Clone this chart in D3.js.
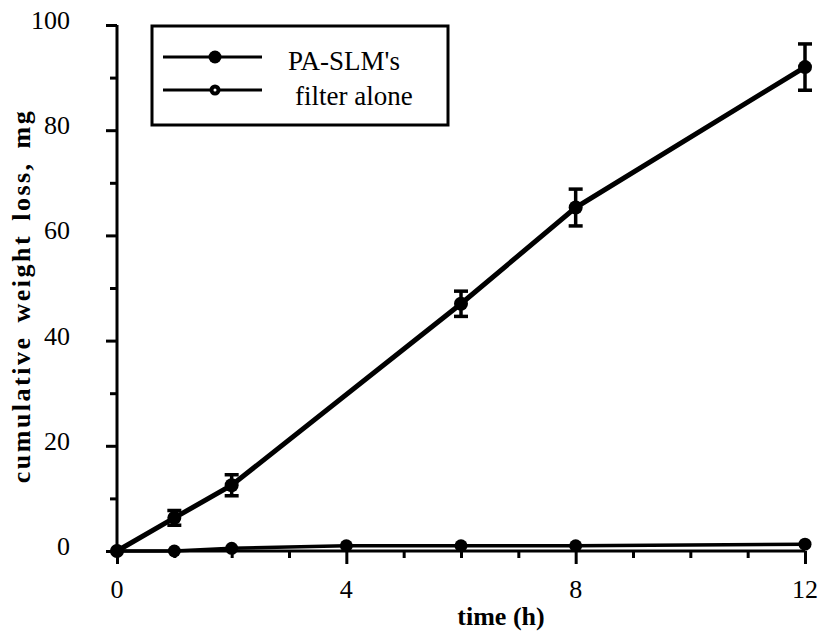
<!DOCTYPE html>
<html>
<head>
<meta charset="utf-8">
<script src="https://cdn.jsdelivr.net/npm/d3@7"></script>
<style>
  body { margin: 0; background: #fff; }
  text { font-family: "Liberation Serif", "Times New Roman", serif; fill: #000; }
</style>
</head>
<body>
<div id="chart"></div>
<script>
// data
var times = [0, 1, 2, 6, 8, 12];
var slmLoss = [0, 6.3, 12.5, 47, 65.3, 92];
var slmErr = [0, 1.4, 2, 2.4, 3.5, 4.4];
var filterTimes = [0, 1, 2, 4, 6, 8, 12];
var filterLoss = [0, 0, 0.5, 1.0, 1.0, 1.0, 1.3];
var xMajor = [0, 4, 8, 12];
var yMajor = [0, 20, 40, 60, 80, 100];
var legendNames = ["PA-SLM's", "filter alone"];

var svg = d3.select("#chart").append("svg")
  .attr("width", 822)
  .attr("height", 634);

var x = d3.scaleLinear().domain([0, 12]).range([117, 805]);
var y = d3.scaleLinear().domain([0, 100]).range([551, 25]);

// y axis
var yAxis = svg.append("g")
  .attr("transform", "translate(117,0)")
  .call(d3.axisLeft(y).tickValues(d3.range(0, 101, 10)).tickSize(7).tickFormat(""));
yAxis.selectAll(".tick").filter(function(d){ return d % 20 === 0; })
  .select("line").attr("x2", -11);
yAxis.selectAll("line").attr("stroke", "#000").attr("stroke-width", 3);
yAxis.select(".domain").attr("stroke", "#000").attr("stroke-width", 3)
  .attr("d", "M0," + y(0) + "V" + y(100));

svg.selectAll(".ylab").data(yMajor).enter().append("text")
  .attr("class", "ylab")
  .attr("x", 70)
  .attr("y", function(d){ return y(d) + 4; })
  .attr("text-anchor", "end")
  .style("font-size", "26px")
  .text(function(d){ return d; });

// x axis
var xAxis = svg.append("g")
  .attr("transform", "translate(0," + y(0) + ")")
  .call(d3.axisBottom(x).tickValues(d3.range(0, 13, 1)).tickSize(7).tickFormat(""));
xAxis.selectAll(".tick").filter(function(d){ return d % 4 === 0; })
  .select("line").attr("y2", 13);
xAxis.selectAll("line").attr("stroke", "#000").attr("stroke-width", 3);
xAxis.select(".domain").attr("stroke", "#000").attr("stroke-width", 3)
  .attr("d", "M" + x(0) + ",0H" + x(12));

svg.selectAll(".xlab").data(xMajor).enter().append("text")
  .attr("class", "xlab")
  .attr("x", function(d){ return x(d); })
  .attr("y", 598)
  .attr("text-anchor", "middle")
  .style("font-size", "26px")
  .text(function(d){ return d; });

svg.append("text")
  .attr("x", 501)
  .attr("y", 625)
  .attr("text-anchor", "middle")
  .style("font-size", "26px")
  .style("font-weight", "bold")
  .text("time (h)");

svg.append("text")
  .attr("transform", "translate(30,296) rotate(-90)")
  .attr("text-anchor", "middle")
  .style("font-size", "26px")
  .style("font-weight", "bold")
  .style("letter-spacing", "2.5px")
  .style("word-spacing", "4px")
  .text("cumulative weight loss, mg");

// filter alone series
var line = d3.line()
  .x(function(d){ return x(d[0]); })
  .y(function(d){ return y(d[1]); });

svg.append("path")
  .datum(d3.zip(filterTimes, filterLoss))
  .attr("d", line)
  .attr("fill", "none")
  .attr("stroke", "#000")
  .attr("stroke-width", 3.5);

svg.selectAll(".fdot").data(d3.zip(filterTimes, filterLoss)).enter().append("circle")
  .attr("class", "fdot")
  .attr("cx", function(d){ return x(d[0]); })
  .attr("cy", function(d){ return y(d[1]); })
  .attr("r", 6.5)
  .attr("fill", "#000");

// PA-SLM's series
var slm = d3.zip(times, slmLoss, slmErr);

svg.append("path")
  .datum(slm)
  .attr("d", line)
  .attr("fill", "none")
  .attr("stroke", "#000")
  .attr("stroke-width", 5);

var bars = svg.selectAll(".err").data(slm.filter(function(d){ return d[2] > 0; }))
  .enter().append("g").attr("class", "err");
bars.append("line")
  .attr("x1", function(d){ return x(d[0]); })
  .attr("x2", function(d){ return x(d[0]); })
  .attr("y1", function(d){ return y(d[1] - d[2]); })
  .attr("y2", function(d){ return y(d[1] + d[2]); })
  .attr("stroke", "#000").attr("stroke-width", 3.5);
[-1, 1].forEach(function(s){
  bars.append("line")
    .attr("x1", function(d){ return x(d[0]) - 7; })
    .attr("x2", function(d){ return x(d[0]) + 7; })
    .attr("y1", function(d){ return y(d[1] + s * d[2]); })
    .attr("y2", function(d){ return y(d[1] + s * d[2]); })
    .attr("stroke", "#000").attr("stroke-width", 3.5);
});

svg.selectAll(".sdot").data(slm).enter().append("circle")
  .attr("class", "sdot")
  .attr("cx", function(d){ return x(d[0]); })
  .attr("cy", function(d){ return y(d[1]); })
  .attr("r", 7)
  .attr("fill", "#000");

// legend
svg.append("rect")
  .attr("x", 152)
  .attr("y", 26)
  .attr("width", 296)
  .attr("height", 99)
  .attr("fill", "#fff")
  .attr("stroke", "#000")
  .attr("stroke-width", 3);

var leg = svg.selectAll(".leg").data(legendNames).enter().append("g")
  .attr("class", "leg")
  .attr("transform", function(d, i){ return "translate(0," + (57 + i * 33) + ")"; });
leg.append("line")
  .attr("x1", 163).attr("x2", 262)
  .attr("stroke", "#000").attr("stroke-width", 3);
leg.append("circle")
  .attr("cx", 215).attr("r", function(d, i){ return i === 0 ? 6.5 : 5.5; })
  .attr("fill", "#000");
leg.filter(function(d, i){ return i === 1; }).append("circle")
  .attr("cx", 215).attr("r", 1.5).attr("fill", "#fff");
leg.append("text")
  .attr("x", function(d, i){ return i === 0 ? 288 : 295; })
  .attr("y", function(d, i){ return i === 0 ? 13 : 15; })
  .style("font-size", "27px")
  .text(function(d){ return d; });
</script>
</body>
</html>
